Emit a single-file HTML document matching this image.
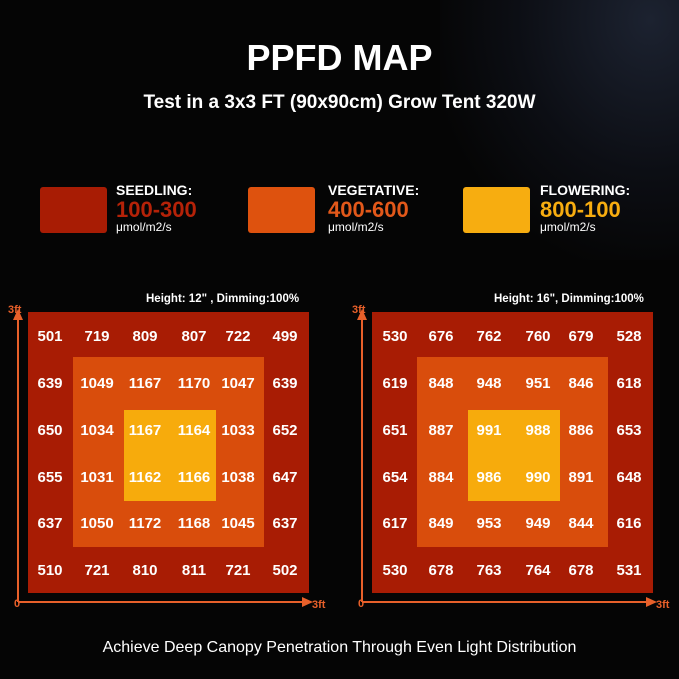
<!DOCTYPE html><html><head><style>
body{margin:0;background:#000;}
#c{position:relative;width:679px;height:679px;background:#050505;overflow:hidden;font-family:"Liberation Sans",sans-serif;color:#fff}
.a{position:absolute}
.n{position:absolute;font-weight:bold;font-size:15px;width:50px;text-align:center;margin-left:-25px;margin-top:-9px}
</style></head><body><div id="c">
<div class="a" style="left:440px;top:-40px;width:300px;height:300px;background:radial-gradient(ellipse at 70% 20%,#1c2230 0%,#0c0e14 45%,rgba(5,5,5,0) 75%)"></div>
<div class="a" style="left:0;top:37px;width:679px;text-align:center;font-size:36px;font-weight:bold">PPFD MAP</div>
<div class="a" style="left:0;top:92px;width:679px;text-align:center;font-size:19px;font-weight:bold">Test in a 3x3 FT (90x90cm) Grow Tent 320W</div>

<div class="a" style="left:40px;top:187px;width:67px;height:46px;background:#a81c04;border-radius:3px"></div>
<div class="a" style="left:116px;top:182px;font-size:14px;font-weight:bold">SEEDLING:</div>
<div class="a" style="left:116px;top:197px;font-size:22px;font-weight:bold;color:#b52208">100-300</div>
<div class="a" style="left:116px;top:220px;font-size:12px">μmol/m2/s</div>
<div class="a" style="left:248px;top:187px;width:67px;height:46px;background:#de520e;border-radius:3px"></div>
<div class="a" style="left:328px;top:182px;font-size:14px;font-weight:bold">VEGETATIVE:</div>
<div class="a" style="left:328px;top:197px;font-size:22px;font-weight:bold;color:#e2581a">400-600</div>
<div class="a" style="left:328px;top:220px;font-size:12px">μmol/m2/s</div>
<div class="a" style="left:463px;top:187px;width:67px;height:46px;background:#f7ad10;border-radius:3px"></div>
<div class="a" style="left:540px;top:182px;font-size:14px;font-weight:bold">FLOWERING:</div>
<div class="a" style="left:540px;top:197px;font-size:22px;font-weight:bold;color:#f7ad10">800-100</div>
<div class="a" style="left:540px;top:220px;font-size:12px">μmol/m2/s</div>

<svg class="a" style="left:0;top:0" width="679" height="679">
<g fill="#e8602a" stroke="#e8602a" font-family="Liberation Sans" font-size="11" font-weight="bold">
<line x1="18" y1="602" x2="18" y2="318" stroke-width="2"/><polygon points="13,320 23,320 18,309" stroke="none"/>
<line x1="18" y1="602" x2="305" y2="602" stroke-width="2"/><polygon points="302,597 302,607 313,602" stroke="none"/>
<text x="8" y="313" stroke="none">3ft</text><text x="312" y="608" stroke="none">3ft</text><text x="14" y="607" stroke="none">0</text>
<line x1="362" y1="602" x2="362" y2="318" stroke-width="2"/><polygon points="357,320 367,320 362,309" stroke="none"/>
<line x1="362" y1="602" x2="650" y2="602" stroke-width="2"/><polygon points="646,597 646,607 657,602" stroke="none"/>
<text x="352" y="313" stroke="none">3ft</text><text x="656" y="608" stroke="none">3ft</text><text x="358" y="607" stroke="none">0</text>
</g>
<rect x="28" y="312" width="281" height="281" fill="#a81c04"/>
<rect x="73" y="357" width="191" height="190" fill="#d94d0c"/>
<rect x="124" y="410" width="92" height="91" fill="#f7ab0c"/>
<rect x="372" y="312" width="281" height="281" fill="#a81c04"/>
<rect x="417" y="357" width="191" height="190" fill="#d94d0c"/>
<rect x="468" y="410" width="92" height="91" fill="#f7ab0c"/>
<g fill="#fff" font-family="Liberation Sans" font-size="11.5" font-weight="bold">
<text x="146" y="302">Height: 12" , Dimming:100%</text>
<text x="494" y="302">Height: 16", Dimming:100%</text></g>
</svg>
<div id="g"></div>
<div class="a" style="left:0;top:639px;width:679px;text-align:center;font-size:16px">Achieve Deep Canopy Penetration Through Even Light Distribution</div>
</div>
<script>
var L=[[501,719,809,807,722,499],[639,1049,1167,1170,1047,639],[650,1034,1167,1164,1033,652],[655,1031,1162,1166,1038,647],[637,1050,1172,1168,1045,637],[510,721,810,811,721,502]];
var R=[[530,676,762,760,679,528],[619,848,948,951,846,618],[651,887,991,988,886,653],[654,884,986,990,891,648],[617,849,953,949,844,616],[530,678,763,764,678,531]];
var lx=[50,97,145,194,238,285],rx=[395,441,489,538,581,629],ry=[337,384,431,478,524,571];
var c=document.getElementById('c'),h='';
for(var i=0;i<6;i++)for(var j=0;j<6;j++){
h+='<div class="n" style="left:'+lx[j]+'px;top:'+ry[i]+'px">'+L[i][j]+'</div>';
h+='<div class="n" style="left:'+rx[j]+'px;top:'+ry[i]+'px">'+R[i][j]+'</div>';}
c.insertAdjacentHTML('beforeend',h);
</script>
</body></html>
